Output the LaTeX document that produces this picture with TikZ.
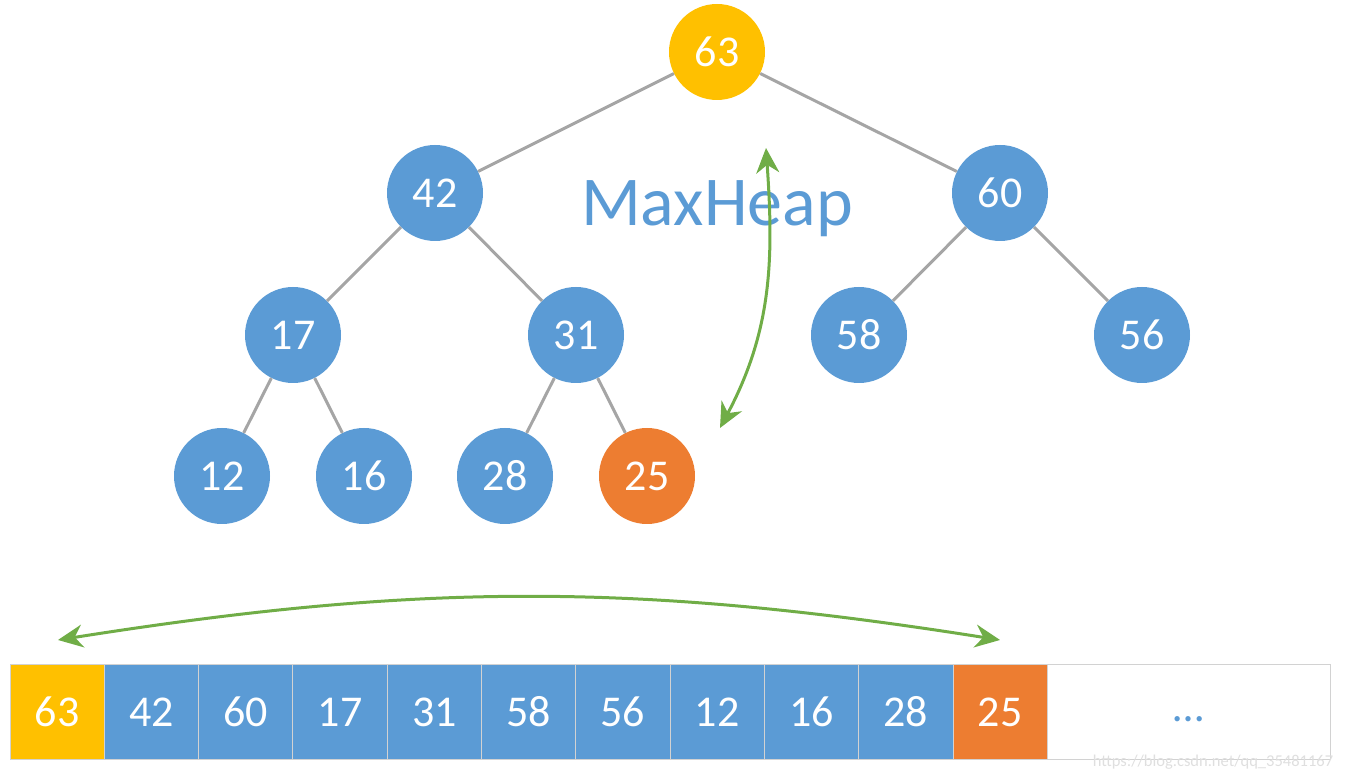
\documentclass[tikz,border=0pt]{standalone}
\usepackage{fontspec}
\setmainfont{Carlito}
\usepackage{tikz}
\usetikzlibrary{arrows.meta,positioning}

\definecolor{heapblue}{HTML}{5B9BD5}
\definecolor{heapgold}{HTML}{FFC000}
\definecolor{heaporange}{HTML}{ED7D31}
\definecolor{heapgreen}{HTML}{70AD47}
\definecolor{heapgray}{HTML}{A5A5A5}

\begin{document}
\begin{tikzpicture}[x=1pt, y=1pt, >={Stealth[length=25pt,width=23pt]},
	key/.style={circle, fill=heapblue, minimum size=96pt, inner sep=0pt, text=white, font=\fontsize{44}{44}\selectfont},
	cell/.style={rectangle, fill=heapblue, draw=gray!35, line width=1pt, outer sep=0pt, minimum width=94.3pt, minimum height=95pt, inner sep=0pt, text=white, font=\fontsize{44}{44}\selectfont},
	tree/.style={draw=heapgray, line width=3pt},
	swap/.style={draw=heapgreen, line width=3pt, <->}]

	\useasboundingbox (0,0) rectangle (1345,781);

	% Nodes {root, 2nd row, 3rd row, leaves}
	\node [key, fill=heapgold]		(k63)	at (717,729)	{63};
	\node [key]						(k42)	at (435,588)	{42};
	\node [key]						(k60)	at (1000,588)	{60};
	\node [key]						(k17)	at (293,446)	{17};
	\node [key]						(k31)	at (576,446)	{31};
	\node [key]						(k58)	at (859,446)	{58};
	\node [key]						(k56)	at (1142,446)	{56};
	\node [key]						(k12)	at (222,305)	{12};
	\node [key]						(k16)	at (364,305)	{16};
	\node [key]						(k28)	at (505,305)	{28};
	\node [key, fill=heaporange]	(k25)	at (647,305)	{25};

	\node [text=heapblue, font=\fontsize{70}{70}\selectfont]	(title)	at (717,572)	{MaxHeap};

	% Tree edges
	\path [tree]	(k63) -- (k42)	(k63) -- (k60);
	\path [tree]	(k42) -- (k17)	(k42) -- (k31);
	\path [tree]	(k60) -- (k58)	(k60) -- (k56);
	\path [tree]	(k17) -- (k12)	(k17) -- (k16);
	\path [tree]	(k31) -- (k28)	(k31) -- (k25);

	% Array
	\node [cell, fill=heapgold]		(a1)	at (57.15,69)	{63};
	\foreach \v [count=\i from 2, remember=\i as \j (initially 1)] in {42,60,17,31,58,56,12,16,28}
		\node [cell]	(a\i)	[right=0pt of a\j]	{\v};
	\node [cell, fill=heaporange]	(a11)	[right=0pt of a10]	{25};
	\node [cell, fill=white, text=heapblue, minimum width=283pt, text height=20pt, text depth=0pt]	(a12)	[right=0pt of a11]	{\dots};

	% Swaps
	\coordinate (top)	at (766,633);
	\coordinate (bot)	at (720,353);
	\draw [swap]	(bot) to [out=62, in=-86]	(top);

	\coordinate (left)	at (58,141);
	\coordinate (right)	at (1000,141);
	\draw [swap]	(left) to [bend left=9]	(right);

	\node [text=gray!25, font=\fontsize{16.5}{16.5}\selectfont]	(mark)	at (1213,19)	{https://blog.csdn.net/qq\_35481167};

\end{tikzpicture}
\end{document}
